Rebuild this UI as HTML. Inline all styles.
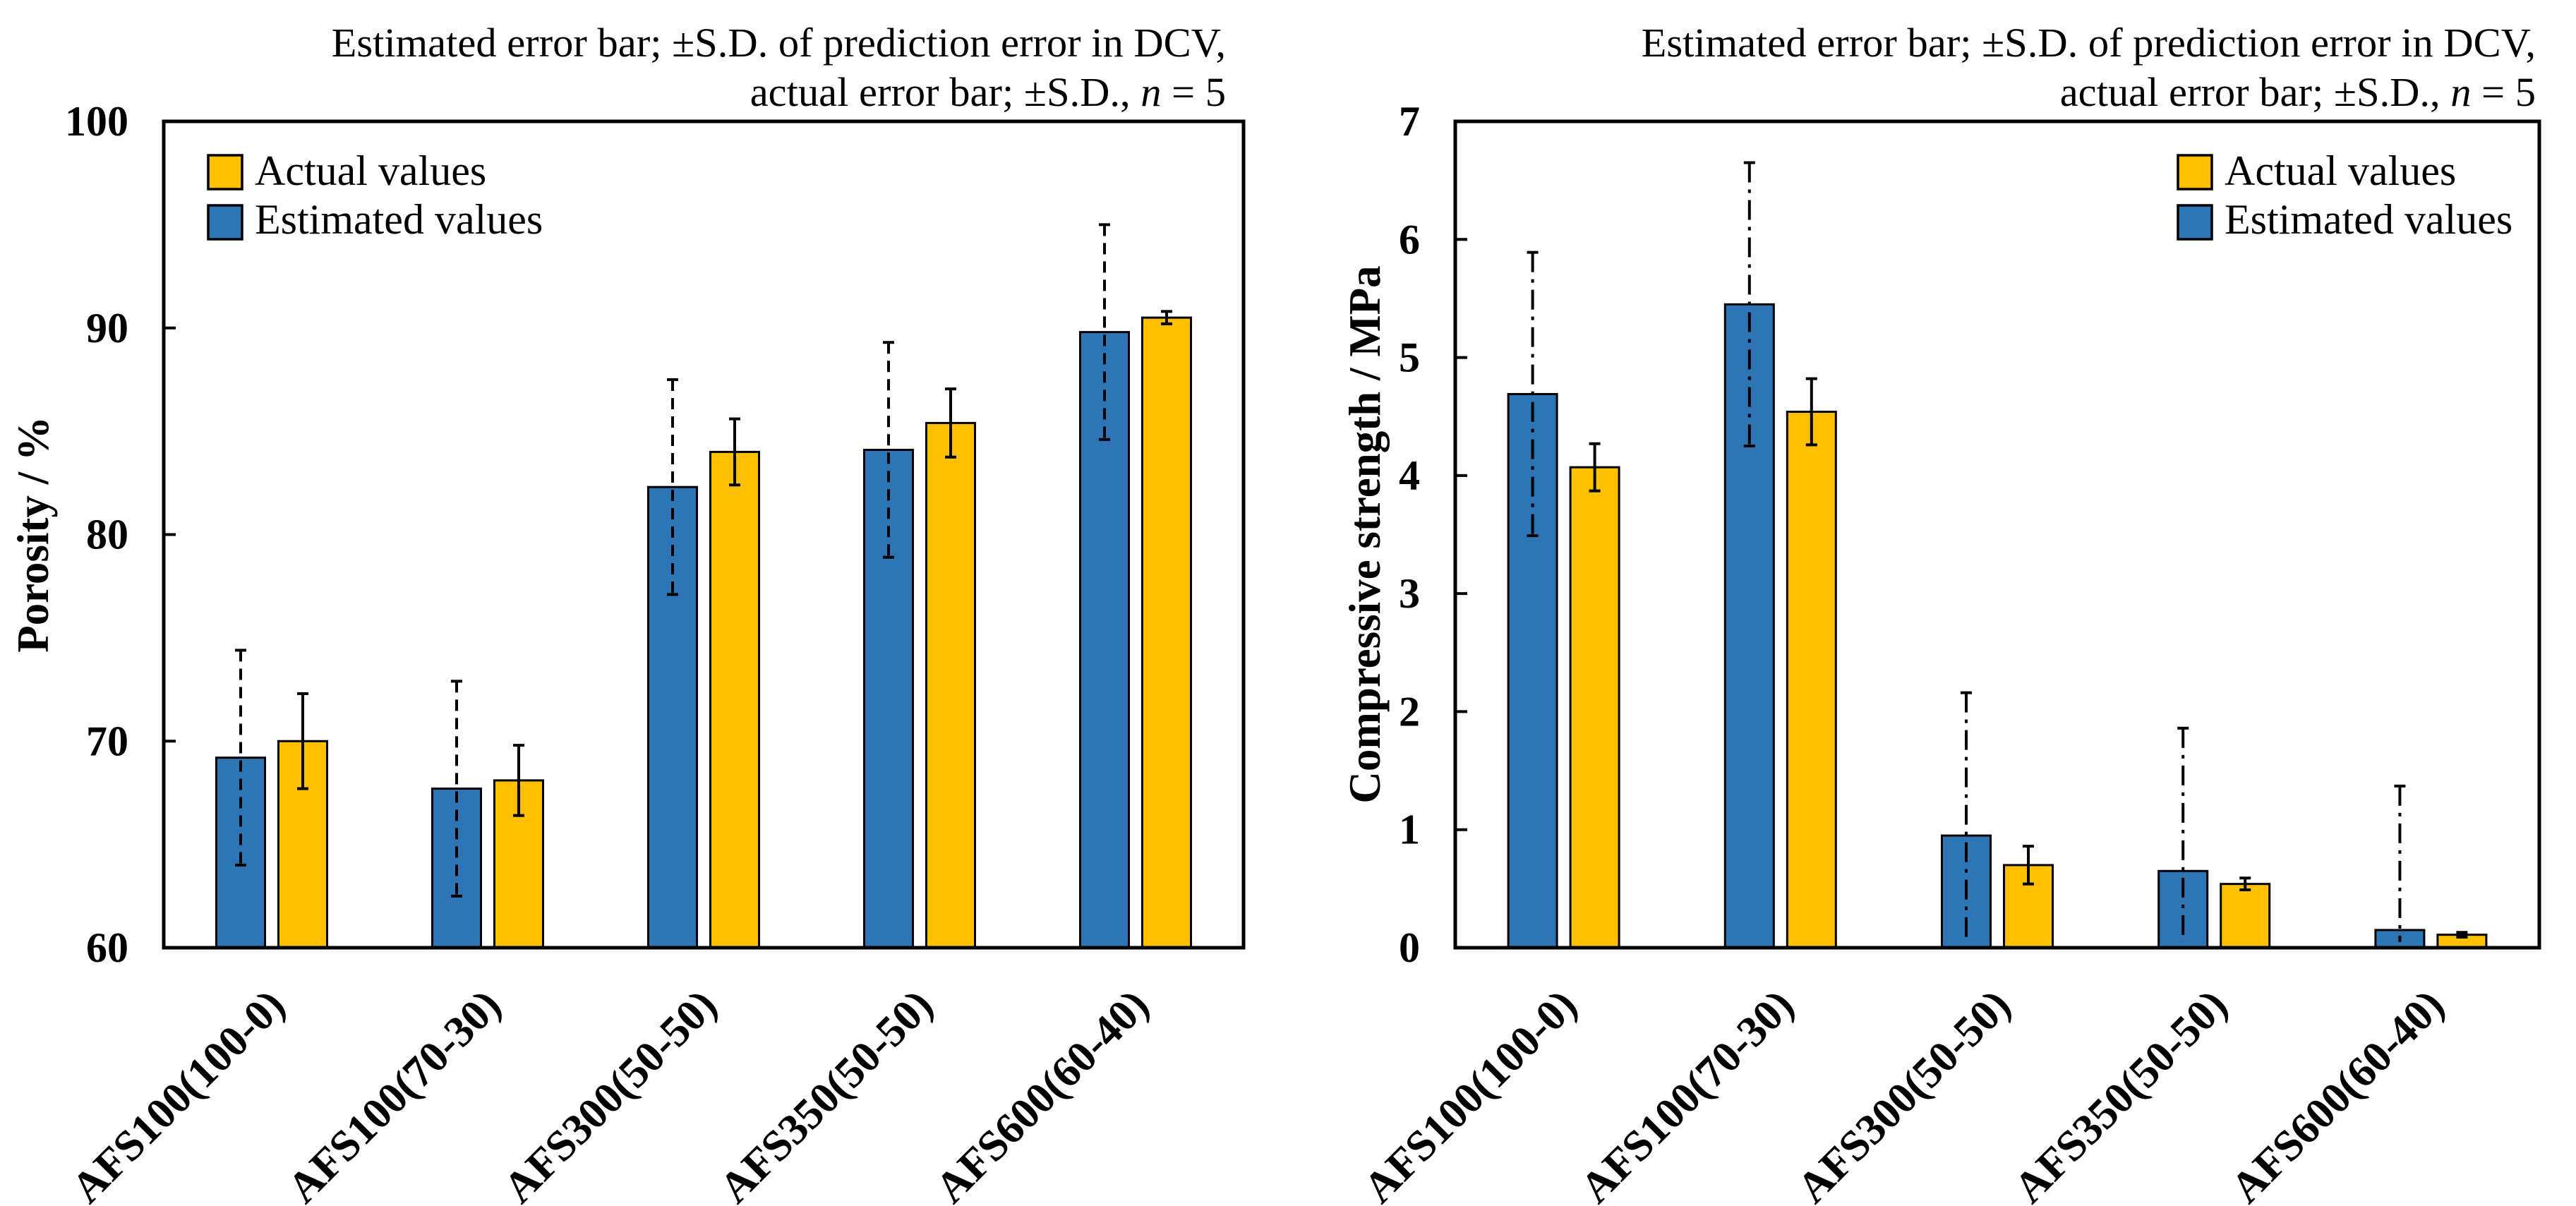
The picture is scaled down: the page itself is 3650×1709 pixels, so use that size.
<!DOCTYPE html>
<html><head><meta charset="utf-8"><style>
html,body{margin:0;padding:0;background:#fff;}
svg{display:block;font-family:"Liberation Serif",serif;}
</style></head><body>
<svg id="fig" width="3650" height="1709" viewBox="0 0 3650 1709" xmlns="http://www.w3.org/2000/svg"></svg>
<script>
const categories = ["AFS100(100-0)","AFS100(70-30)","AFS300(50-50)","AFS350(50-50)","AFS600(60-40)"];
const porEst = [69.2, 67.7, 82.3, 84.1, 89.8];
const porEstErr = [5.2, 5.2, 5.2, 5.2, 5.2];
const porAct = [70.0, 68.1, 84.0, 85.4, 90.5];
const porActErr = [2.3, 1.7, 1.6, 1.65, 0.3];
const porTicks = [60, 70, 80, 90, 100];
const csEst = [4.69, 5.45, 0.95, 0.65, 0.15];
const csEstErr = [1.2, 1.2, 1.21, 1.21, 1.22];
const csAct = [4.07, 4.54, 0.70, 0.54, 0.11];
const csActErr = [0.2, 0.28, 0.16, 0.05, 0.02];
const csTicks = [0, 1, 2, 3, 4, 5, 6, 7];

const NS = "http://www.w3.org/2000/svg";
const svg = document.getElementById('fig');
function mk(tag, attrs, parent, text){
  const e = document.createElementNS(NS, tag);
  for (const k in attrs) e.setAttribute(k, attrs[k]);
  if (text !== undefined) e.textContent = text;
  (parent || svg).appendChild(e);
  return e;
}

function drawChart(cfg){
  const g = mk('g', {});
  
  
  const L = cfg.left, R = cfg.right, T = 172, B = 1343;
  const yS = v => B - (v - cfg.ymin) / (cfg.ymax - cfg.ymin) * (B - T);
  const slot = (R - L) / categories.length;
  const xC = i => L + slot * (i + 0.5);
  const bw = 69, off = 44;

  const n1 = mk('text', {x: cfg.noteX, y: 80, 'text-anchor': 'end', 'font-size': 58.5}, g, 'Estimated error bar; \u00B1S.D. of prediction error in DCV,');
  
  
  const n2 = mk('text', {x: cfg.noteX, y: 150, 'text-anchor': 'end', 'font-size': 58.5}, g);
  
  
  mk('tspan', {}, n2, 'actual error bar; \u00B1S.D., ');
  mk('tspan', {'font-style': 'italic'}, n2, 'n');
  mk('tspan', {}, n2, ' = 5');

  const clip = mk('clipPath', {id: 'clip-' + cfg.name}, g);
  mk('rect', {x: L, y: T, width: R - L, height: B - T}, clip);

  categories.forEach((c, i) => {
    const be = mk('rect', {x: xC(i) - off - bw/2, y: yS(cfg.est[i]), width: bw, height: B - yS(cfg.est[i]), fill: '#2E75B6', stroke: '#000', 'stroke-width': 3}, g);
    
    
    const ba = mk('rect', {x: xC(i) + off - bw/2, y: yS(cfg.act[i]), width: bw, height: B - yS(cfg.act[i]), fill: '#FFC000', stroke: '#000', 'stroke-width': 3}, g);
    
    
  });

  categories.forEach((c, i) => {
    const eg = mk('g', {'clip-path': 'url(#clip-' + cfg.name + ')', stroke: '#000', 'stroke-width': 4}, g);
    
    
    const x = xC(i) - off, hi = yS(cfg.est[i] + cfg.estErr[i]), lo = yS(cfg.est[i] - cfg.estErr[i]);
    mk('line', {x1: x, x2: x, y1: hi, y2: Math.min(lo, B - 8), 'stroke-dasharray': cfg.dash}, eg);
    mk('line', {x1: x - 8, x2: x + 8, y1: hi, y2: hi}, eg);
    if (lo < B) mk('line', {x1: x - 8, x2: x + 8, y1: lo, y2: lo}, eg);
    const ag = mk('g', {stroke: '#000', 'stroke-width': 4}, g);
    
    
    const xa = xC(i) + off, ha = yS(cfg.act[i] + cfg.actErr[i]), la = yS(cfg.act[i] - cfg.actErr[i]);
    mk('line', {x1: xa, x2: xa, y1: ha, y2: la}, ag);
    mk('line', {x1: xa - 8, x2: xa + 8, y1: ha, y2: ha}, ag);
    mk('line', {x1: xa - 8, x2: xa + 8, y1: la, y2: la}, ag);
  });

  const fr = mk('rect', {x: L, y: T, width: R - L, height: B - T, fill: 'none', stroke: '#000', 'stroke-width': 5}, g);
  
  

  cfg.ticks.forEach(t => {
    const y = yS(t);
    if (t !== cfg.ymin && t !== cfg.ymax) mk('line', {x1: L, x2: L + 17, y1: y, y2: y, stroke: '#000', 'stroke-width': 4}, g);
    const tl = mk('text', {x: L - 50, y: y + 20, 'text-anchor': 'end', 'font-size': 60, 'font-weight': 'bold'}, g, String(t));
    
    
  });

  const yt = mk('text', {x: 0, y: 0, transform: 'translate(' + cfg.ytX + ',' + ((T + B)/2) + ') rotate(-90)', 'text-anchor': 'middle', 'font-size': 63, 'font-weight': 'bold'}, g, cfg.ytitle);
  
  

  categories.forEach((c, i) => {
    const xl = mk('text', {x: 0, y: 0, transform: 'translate(' + (xC(i) + 22) + ',' + (B + 85) + ') rotate(-45)', 'text-anchor': 'end', 'font-size': 62, 'font-weight': 'bold'}, g, c);
    
    
  });

  const lg = mk('g', {}, g);
  
  
  const items = [['Actual values', '#FFC000', 220, 262], ['Estimated values', '#2E75B6', 291, 331]];
  items.forEach(it => {
    const sw = mk('rect', {x: cfg.legX, y: it[2], width: 48, height: 48, fill: it[1], stroke: '#000', 'stroke-width': 3.5}, lg);
    
    
    const lt = mk('text', {x: cfg.legX + 66, y: it[3], 'font-size': 60}, lg, it[0]);
    
    
  });
}

drawChart({name: 'porosity-chart', left: 232, right: 1762, ymin: 60, ymax: 100, ticks: porTicks,
  est: porEst, estErr: porEstErr, act: porAct, actErr: porActErr, dash: '16 10',
  noteX: 1737, ytX: 68, ytitle: 'Porosity / %', legX: 295});
drawChart({name: 'compressive-strength-chart', left: 2062, right: 3598, ymin: 0, ymax: 7, ticks: csTicks,
  est: csEst, estErr: csEstErr, act: csAct, actErr: csActErr, dash: '28 10 5 10',
  noteX: 3593, ytX: 1955, ytitle: 'Compressive strength / MPa', legX: 3086});
</script>
</body></html>
